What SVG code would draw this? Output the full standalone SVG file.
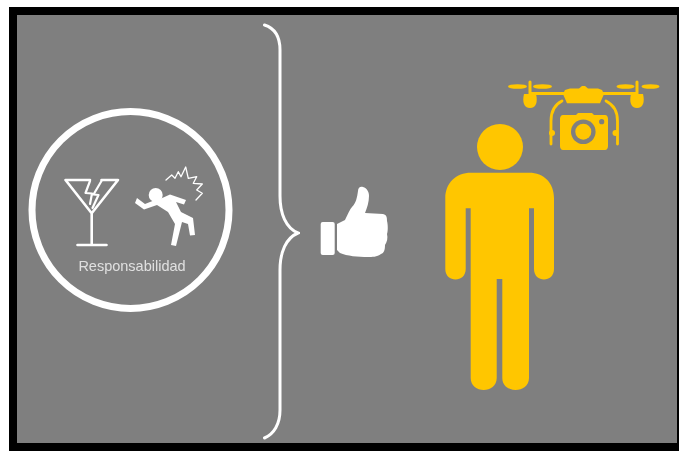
<svg xmlns="http://www.w3.org/2000/svg" width="679" height="451" viewBox="0 0 679 451">
<defs>
<filter id="soft" x="-5%" y="-5%" width="110%" height="110%"><feGaussianBlur stdDeviation="0.7"/></filter>
</defs>
<style>
.w{fill:none;stroke:#fff;stroke-linecap:round;stroke-linejoin:round}
.y{fill:#ffc600}
.yl{fill:none;stroke:#ffc600;stroke-linecap:round;stroke-linejoin:round}
.g{fill:#7f7f7f}
.soft{filter:url(#soft)}
</style>
<rect width="679" height="451" fill="#fff"/>
<rect x="9" y="7" width="670" height="444" fill="#000"/>
<rect x="17" y="15" width="660" height="428" fill="#7f7f7f"/>
<g id="responsabilidad" class="soft">
<circle cx="130.500" cy="210" r="98.500" fill="none" stroke="#fff" stroke-width="7"/>
<g id="glass">
<path class="w" stroke-width="2.600" d="M90 180H65.500L91.700 213.300L118 180H101.500M91.700 213.300V245M77.500 245H106.500"/>
<path class="w" stroke-width="2.200" d="M90 181L85.500 193L92 193.500L90 204M101.500 181L93.500 194.500L98.500 195L92.500 208"/>
</g>
<g id="falling-person">
<circle cx="155.700" cy="195" r="7" fill="#fff"/>
<path fill="#fff" d="M160 199L170 194.500L186 200L184 204.500L176 202L181 212L187 215L193 218L195 235L190 235.500L188 224L182 222L176 246L171 245L175 224L168 212L157 205L144 209.500L135 203L137 198L145 204L155 200Z"/>
<path class="w" stroke-width="1.300" d="M166 180L171.700 175L175 178.300L178.300 171.700L181 176.700L185.700 167L188.300 178.300L196.700 176.700L193.300 183.300L202.300 184L196.700 190L202.300 193.300L196 200"/>
</g>
<text x="132" y="270.500" font-family="Liberation Sans, Arial, sans-serif" font-size="14.500" fill="#e0e0e0" text-anchor="middle">Responsabilidad</text>
</g>
<g id="connectors" class="soft">
<path id="brace" d="M264.500 25C274 28 280 36 280 50V196C280 214 286 228 298 233C286 238 280 252 280 270V410C280 424 274 434 264.500 438" fill="none" stroke="#fff" stroke-width="3" stroke-linecap="round"/>
</g>
<g id="thumbs-up" class="soft">
<rect x="320.700" y="222" width="14" height="33" rx="2" fill="#fff"/>
<path fill="#fff" d="M337 224L345 220C348 214 350 209 352 207C356 203 357 198 358 191C358 187 361 186 363 187C367 188 369 192 369 196C369 202 367 208 365 213L383 214C387 215 387 218 387 221C388 225 388 231 387 234C388 238 387 242 385 245C385 250 384 253 381 254C377 257 372 257 368 257C358 257 347 256 340 253L337 250Z"/>
</g>
<g id="person" class="soft">
<circle class="y" cx="500" cy="147" r="23"/>
<path class="y" d="M471 172.700H529C544 172.700 554 183 554 198V269C554 283 534 283 534 269V208.300H529V378C529 394 502.300 394 502.300 378V279H496.700V378C496.700 394 470.700 394 470.700 378V208.300H465.700V269C465.700 283 445.300 283 445.300 269V198C445.300 183 456 172.700 471 172.700Z"/>
</g>
<g id="drone" class="soft">
<path class="y" d="M565 90L570 88.500H579L582 86H585L588 88.500H598L602 90L604 94L600 103.300H567L563 94Z"/>
<path class="yl" stroke-width="3" d="M530 93.500H565M602 93.500H637M530 82V97M637 82V97"/>
<path class="y" d="M524 94H536C538 102 536 108 530 108C524 108 522 102 524 94Z"/>
<path class="y" d="M631 94H643C645 102 643 108 637 108C631 108 629 102 631 94Z"/>
<ellipse class="y" cx="517.500" cy="86.500" rx="9.500" ry="2.300"/>
<ellipse class="y" cx="542.500" cy="86.500" rx="9.500" ry="2.300"/>
<ellipse class="y" cx="625.500" cy="86.500" rx="9" ry="2.300"/>
<ellipse class="y" cx="650.500" cy="86.500" rx="9" ry="2.300"/>
<path class="yl" stroke-width="2.800" d="M562 101C554 105 551 112 551 121V144M606 101C614 105 617.500 112 617.500 121V144"/>
<circle class="y" cx="552" cy="133" r="3"/>
<circle class="y" cx="615.500" cy="133" r="3"/>
<path class="y" d="M563 115H576L578 113H592L594 115H605C607 115 608 117 608 119V146C608 148 607 150 605 150H563C561 150 560 148 560 146V119C560 117 561 115 563 115Z"/>
<circle class="g" cx="583.300" cy="131.700" r="12.300"/>
<circle class="y" cx="583.300" cy="131.700" r="8"/>
<circle class="g" cx="601.700" cy="121.700" r="2.600"/>
</g>
</svg>
